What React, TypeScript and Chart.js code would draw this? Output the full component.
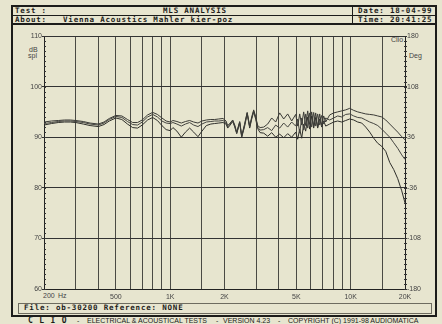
import React, { useEffect, useRef } from 'react';
import { Chart, registerables } from 'chart.js';

Chart.register(...registerables);

// Frequency points (Hz) shared by the three measured curves
const FREQ_HZ = [
  200, 220, 240, 260, 280, 300, 330, 360, 400, 430, 460, 500, 540, 580, 620, 660, 700, 750, 800, 850, 900, 950,
  1000, 1036, 1090, 1153, 1215, 1282, 1350, 1426, 1500, 1587, 1680, 1764, 1860, 1961,
  2040, 2083, 2150, 2221, 2280, 2337, 2428, 2491, 2580, 2671, 2758, 2830, 2902, 2980, 3054, 3150,
  3298, 3470, 3652, 3843, 4044, 4256, 4478, 4713, 4960,
  5088, 5219, 5354, 5492, 5634, 5780, 5929, 6082, 6239, 6401, 6566, 6736, 6910, 7088, 7272,
  7652, 8054, 8476, 8920, 9388, 9880, 10397, 10942, 11515, 12118, 12753, 13421, 14124, 14864,
  15643, 16462, 17324, 18232, 19187, 20000,
];

// SPL (dB) — curve that stays highest at the top end
const CURVE_A = [
  93.0, 93.2, 93.3, 93.4, 93.4, 93.3, 93.1, 92.8, 92.6, 93.0, 93.7, 94.3, 94.2, 93.5, 92.9, 92.9, 93.4, 94.4, 94.9, 94.5, 93.8, 93.2,
  93.0, 93.3, 93.1, 92.8, 93.1, 93.3, 93.0, 92.8, 93.2, 93.4, 93.5, 93.5, 93.6, 93.7,
  93.2, 92.3, 92.8, 93.4, 92.4, 91.0, 93.1, 90.3, 92.5, 94.9, 92.2, 94.0, 95.4, 94.0, 92.3, 91.9,
  92.0, 92.6, 93.8, 93.0, 94.8, 93.6, 94.6, 93.2, 94.5,
  92.2, 94.6, 92.4, 95.0, 92.3, 95.2, 92.5, 95.0, 92.2, 94.8, 92.0, 94.6, 92.4, 94.2, 93.0,
  94.4, 94.8, 95.0, 95.2, 95.4, 95.7, 95.3, 95.0, 94.8, 94.6, 94.5, 94.4, 94.2, 94.0,
  93.4, 92.6, 91.8, 91.0, 90.1, 89.5,
];

// SPL (dB) — middle curve
const CURVE_B = [
  92.7, 92.9, 93.1, 93.2, 93.2, 93.1, 92.9, 92.6, 92.4, 92.8, 93.5, 94.1, 93.9, 93.1, 92.5, 92.4, 93.0, 94.0, 94.5, 94.0, 93.2, 92.8,
  92.7, 92.9, 92.6, 92.2, 92.6, 92.9, 92.4, 92.1, 92.6, 93.0, 93.1, 93.2, 93.2, 93.3,
  92.9, 92.0, 92.6, 93.3, 92.2, 90.8, 93.0, 90.1, 92.3, 94.8, 92.0, 93.8, 95.2, 93.8, 92.0, 91.4,
  91.5, 91.9, 91.3, 92.4, 91.8, 92.8, 92.0, 93.0, 92.2,
  93.6, 90.8, 93.8, 91.4, 94.6, 91.8, 94.8, 92.0, 94.9, 92.2, 94.6, 92.4, 94.3, 92.6, 93.8,
  93.4, 93.8, 94.2, 94.0, 94.5, 94.6, 94.2, 93.9, 93.8, 93.4, 93.0, 92.7, 92.3, 91.6,
  90.8, 90.0, 88.9, 87.8, 86.5, 85.6,
];

// SPL (dB) — curve that falls off most at the top end
const CURVE_C = [
  92.4, 92.7, 92.9, 93.0, 93.0, 92.9, 92.6, 92.3, 92.1, 92.5, 93.2, 93.8, 93.5, 92.6, 91.9, 91.8, 92.4, 93.4, 93.9, 93.3, 92.3, 91.5,
  91.3, 91.9, 91.2, 90.0, 91.0, 91.8, 91.0, 90.1, 91.2, 92.3, 92.6, 92.7, 92.8, 92.9,
  92.6, 91.8, 92.4, 93.1, 92.0, 90.7, 92.8, 90.0, 92.0, 94.6, 91.8, 93.6, 95.0, 93.5, 91.7, 90.9,
  90.8, 90.2, 90.9, 90.0, 90.6, 89.9, 90.7, 90.0, 91.0,
  89.6, 91.6, 89.8, 92.6, 91.2, 94.0, 91.6, 94.2, 91.8, 93.9, 91.8, 93.6, 92.0, 93.2, 92.2,
  92.6, 93.0, 93.2, 93.0, 93.3, 93.6, 93.4, 93.0, 92.8, 92.0, 91.0, 89.8, 88.8, 88.2,
  87.2, 85.0, 83.6, 81.8, 79.4, 77.0,
];

const GRID_HZ = [200, 300, 400, 500, 600, 700, 800, 900, 1000, 1500, 2000, 3000, 4000, 5000, 6000, 7000, 8000, 9000, 10000, 15000, 20000];
const FREQ_LABELS: Record<number, string> = { 500: '500', 1000: '1K', 2000: '2K', 5000: '5K', 10000: '10K', 20000: '20K' };
const SPL_TICKS = [60, 70, 80, 90, 100, 110];
const PHASE_TICKS = [-180, -108, -36, 36, 108, 180];

const BG = '#e7e5cf';
const INK = '#1c1c1a';
const MONO = '"DejaVu Sans Mono", "Liberation Mono", monospace';
const SANS = '"Liberation Sans", Arial, sans-serif';

const abs = (s: React.CSSProperties): React.CSSProperties => ({ position: 'absolute', ...s });
const head: React.CSSProperties = { fontFamily: MONO, fontWeight: 700, fontSize: 7.5, letterSpacing: 0.8, lineHeight: '8px', color: INK, whiteSpace: 'pre' };
const small: React.CSSProperties = { fontFamily: SANS, fontSize: 7, lineHeight: '8px', color: '#444', whiteSpace: 'pre' };
const foot: React.CSSProperties = { fontFamily: SANS, fontSize: 7, lineHeight: '8px', color: INK, whiteSpace: 'pre' };

export default function App() {
  const ref = useRef<HTMLCanvasElement>(null);

  useEffect(() => {
    if (!ref.current) return;
    const minorTicks = {
      id: 'minorTicks',
      afterDraw(chart: any) {
        const { ctx, chartArea } = chart;
        const y = chart.scales.y;
        ctx.save();
        ctx.strokeStyle = '#333';
        ctx.lineWidth = 1;
        ctx.beginPath();
        for (let v = SPL_TICKS[0]; v <= SPL_TICKS[SPL_TICKS.length - 1]; v += 1) {
          const py = Math.round(y.getPixelForValue(v)) + 0.5;
          ctx.moveTo(chartArea.left, py);
          ctx.lineTo(chartArea.left + 2, py);
          ctx.moveTo(chartArea.right - 1, py);
          ctx.lineTo(chartArea.right + 2, py);
        }
        ctx.stroke();
        ctx.restore();
      },
    };
    const mk = (data: number[], color: string) => ({
      data: FREQ_HZ.map((f, i) => ({ x: f, y: data[i] })),
      borderColor: color,
      borderWidth: 1,
      pointRadius: 0,
      tension: 0,
      fill: false,
      yAxisID: 'y',
    });
    const chart = new Chart(ref.current, {
      type: 'line',
      data: {
        datasets: [mk(CURVE_A, '#3a3a36'), mk(CURVE_B, '#444440'), mk(CURVE_C, '#2e2e2a')],
      },
      options: {
        animation: false,
        responsive: false,
        maintainAspectRatio: false,
        layout: { padding: { top: 10, left: 0, right: 0, bottom: 0 } },
        plugins: { legend: { display: false }, tooltip: { enabled: false } },
        scales: {
          x: {
            type: 'logarithmic',
            min: 200,
            max: 20000,
            afterBuildTicks: (s: any) => {
              s.ticks = GRID_HZ.map((v) => ({ value: v }));
            },
            afterFit: (s: any) => {
              s.height = 13;
            },
            grid: { color: '#4a4a44', lineWidth: 1, drawTicks: false },
            border: { display: true, color: '#222', width: 1 },
            ticks: {
              autoSkip: false,
              maxRotation: 0,
              minRotation: 0,
              padding: 4,
              color: '#444',
              font: { family: SANS, size: 7 },
              callback: (v: any) => FREQ_LABELS[Number(v)] ?? '',
            },
          },
          y: {
            position: 'left',
            min: 60,
            max: 110,
            afterBuildTicks: (s: any) => {
              s.ticks = SPL_TICKS.map((v) => ({ value: v }));
            },
            afterFit: (s: any) => {
              s.width = 44;
            },
            grid: { color: '#333', lineWidth: 1, tickLength: 2 },
            border: { display: true, color: '#222', width: 1 },
            ticks: { padding: 0, color: '#444', font: { family: SANS, size: 7 } },
          },
          y1: {
            position: 'right',
            min: -180,
            max: 180,
            afterBuildTicks: (s: any) => {
              s.ticks = PHASE_TICKS.map((v) => ({ value: v }));
            },
            afterFit: (s: any) => {
              s.width = 37;
            },
            grid: { drawOnChartArea: false, color: '#333', tickLength: 2 },
            border: { display: true, color: '#222', width: 1 },
            ticks: { padding: 0, color: '#444', font: { family: SANS, size: 7 } },
          },
        },
      },
      plugins: [minorTicks],
    } as any);
    return () => chart.destroy();
  }, []);

  return (
    <div style={abs({ left: 0, top: 0, width: 442, height: 324, background: BG, overflow: 'hidden' })}>
      {/* outer frame */}
      <div style={abs({ left: 11, top: 5, width: 422, height: 308, border: `2px solid ${INK}` })} />
      {/* header dividers */}
      <div style={abs({ left: 13, top: 15, width: 422, height: 1, background: INK })} />
      <div style={abs({ left: 13, top: 23, width: 422, height: 2, background: INK })} />
      <div style={abs({ left: 352, top: 7, width: 1, height: 17, background: INK })} />
      {/* header text */}
      <div style={abs({ ...head, left: 15, top: 7 })}>Test :</div>
      <div style={abs({ ...head, left: 163, top: 7 })}>MLS ANALYSIS</div>
      <div style={abs({ ...head, left: 358, top: 7 })}>Date: 18-04-99</div>
      <div style={abs({ ...head, left: 15, top: 16 })}>About:</div>
      <div style={abs({ ...head, left: 63, top: 16 })}>Vienna Acoustics Mahler kier-poz</div>
      <div style={abs({ ...head, left: 358, top: 16 })}>Time: 20:41:25</div>

      {/* axis captions */}
      <div style={abs({ ...small, left: 29, top: 46 })}>dB</div>
      <div style={abs({ ...small, left: 28, top: 52 })}>spl</div>
      <div style={abs({ ...small, left: 409, top: 52 })}>Deg</div>
      <div style={abs({ ...small, left: 391, top: 36 })}>Clio</div>
      <div style={abs({ ...small, left: 43, top: 292 })}>200</div>
      <div style={abs({ ...small, left: 58, top: 292 })}>Hz</div>

      <canvas ref={ref} width={442} height={276} style={abs({ left: 0, top: 26, width: 442, height: 276 })} />

      {/* file box */}
      <div style={abs({ left: 18, top: 303, width: 412, height: 9, border: '1px solid #6e6c60' })} />
      <div style={abs({ ...head, left: 24, top: 304 })}>File: ob-30200 Reference: NONE</div>

      {/* footer */}
      <div style={abs({ ...head, left: 28, top: 317, fontSize: 8 })}>C L I O</div>
      <div style={abs({ ...foot, left: 77, top: 317 })}>-</div>
      <div style={abs({ ...foot, left: 87, top: 317 })}>ELECTRICAL &amp; ACOUSTICAL TESTS</div>
      <div style={abs({ ...foot, left: 216, top: 317 })}>-</div>
      <div style={abs({ ...foot, left: 223, top: 317 })}>VERSION 4.23</div>
      <div style={abs({ ...foot, left: 278, top: 317 })}>-</div>
      <div style={abs({ ...foot, left: 288, top: 317 })}>COPYRIGHT (C) 1991-98 AUDIOMATICA</div>
    </div>
  );
}
